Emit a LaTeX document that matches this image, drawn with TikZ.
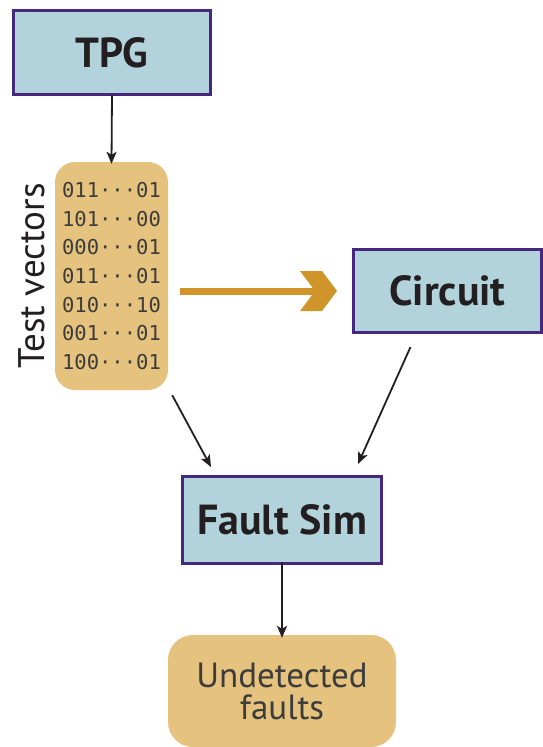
\documentclass[tikz,border=0pt]{standalone}
\usepackage{fontspec}
\setmainfont{PT Sans}
\setmonofont{DejaVu Sans Mono}
\usetikzlibrary{arrows.meta}

\definecolor{boxblue}{HTML}{B2D3DB}
\definecolor{boxline}{HTML}{46287D}
\definecolor{sand}{HTML}{E5C27D}
\definecolor{amber}{HTML}{CF952A}
\definecolor{ink}{HTML}{231F20}
\definecolor{grayink}{HTML}{3C3C3C}

% thick open chevron for the vector stream
\pgfdeclarearrow{
  name = Chevron,
  setup code = {
    \pgfarrowssettipend{0pt}
    \pgfarrowssetlineend{-20pt}
    \pgfarrowssetbackend{-37pt}
    \pgfarrowssetvisualbackend{-37pt}
    \pgfarrowshullpoint{0pt}{0pt}
    \pgfarrowshullpoint{-37pt}{20pt}
    \pgfarrowshullpoint{-37pt}{-20pt}
  },
  drawing code = {
    \pgfpathmoveto{\pgfqpoint{-37pt}{20pt}}
    \pgfpathlineto{\pgfqpoint{-15pt}{20pt}}
    \pgfpathlineto{\pgfqpoint{0pt}{0pt}}
    \pgfpathlineto{\pgfqpoint{-15pt}{-20pt}}
    \pgfpathlineto{\pgfqpoint{-37pt}{-20pt}}
    \pgfpathlineto{\pgfqpoint{-22pt}{0pt}}
    \pgfpathclose
    \pgfusepathqfill
  }
}

\tikzset{
  block/.style={draw=boxline, line width=3pt, fill=boxblue, inner sep=0pt,
    text=ink, font=\fontsize{42}{46}\selectfont\bfseries},
  sandbox/.style={fill=sand, inner sep=0pt, text=grayink},
  flow/.style={-{Stealth[length=12pt,width=10pt,inset=3pt]}, line width=1.8pt, ink},
}

\begin{document}
\begin{tikzpicture}[x=1pt,y=-1pt]
\useasboundingbox (0,0) rectangle (543,747);

% blocks
\node[block, minimum width=197pt, minimum height=84pt] (tpg) at (112,52.5) {TPG};
\node[block, minimum width=188pt, minimum height=83pt] (circuit) at (447.5,291) {Circuit};
\node[block, minimum width=199pt, minimum height=87pt] (fault) at (282,520) {Fault Sim};

% vectors and result
\node[sandbox, rounded corners=20pt, minimum width=113pt, minimum height=228pt,
  align=left, font=\fontsize{20.5}{28.6}\selectfont\ttfamily] (vec) at (111.5,276)
  {011···01\\101···00\\000···01\\011···01\\010···10\\001···01\\100···01};
\node[rotate=90, text=ink, font=\fontsize{37}{40}\selectfont] (veclabel) at (32,276) {Test vectors};
\node[sandbox, rounded corners=25pt, minimum width=228pt, minimum height=112pt,
  align=center, font=\fontsize{35}{32}\selectfont] (undet) at (282,691)
  {Undetected\\faults};

% connectors
\draw[flow] ([yshift=1pt]tpg.south) -- ([yshift=-2pt]vec.north);
\draw[amber, line width=7pt, -Chevron]
  ([shift={(12,15)}]vec.east) -- ([xshift=-15pt]circuit.west);
\draw[flow] ([shift={(4,5)}]vec.south east) -- ([shift={(30,-8)}]fault.north west);
\draw[flow] ([shift={(-37,13)}]circuit.south) -- ([shift={(76,-11)}]fault.north);
\draw[flow] ([yshift=3pt]fault.south) -- ([yshift=-3pt]undet.north);
\end{tikzpicture}
\end{document}
